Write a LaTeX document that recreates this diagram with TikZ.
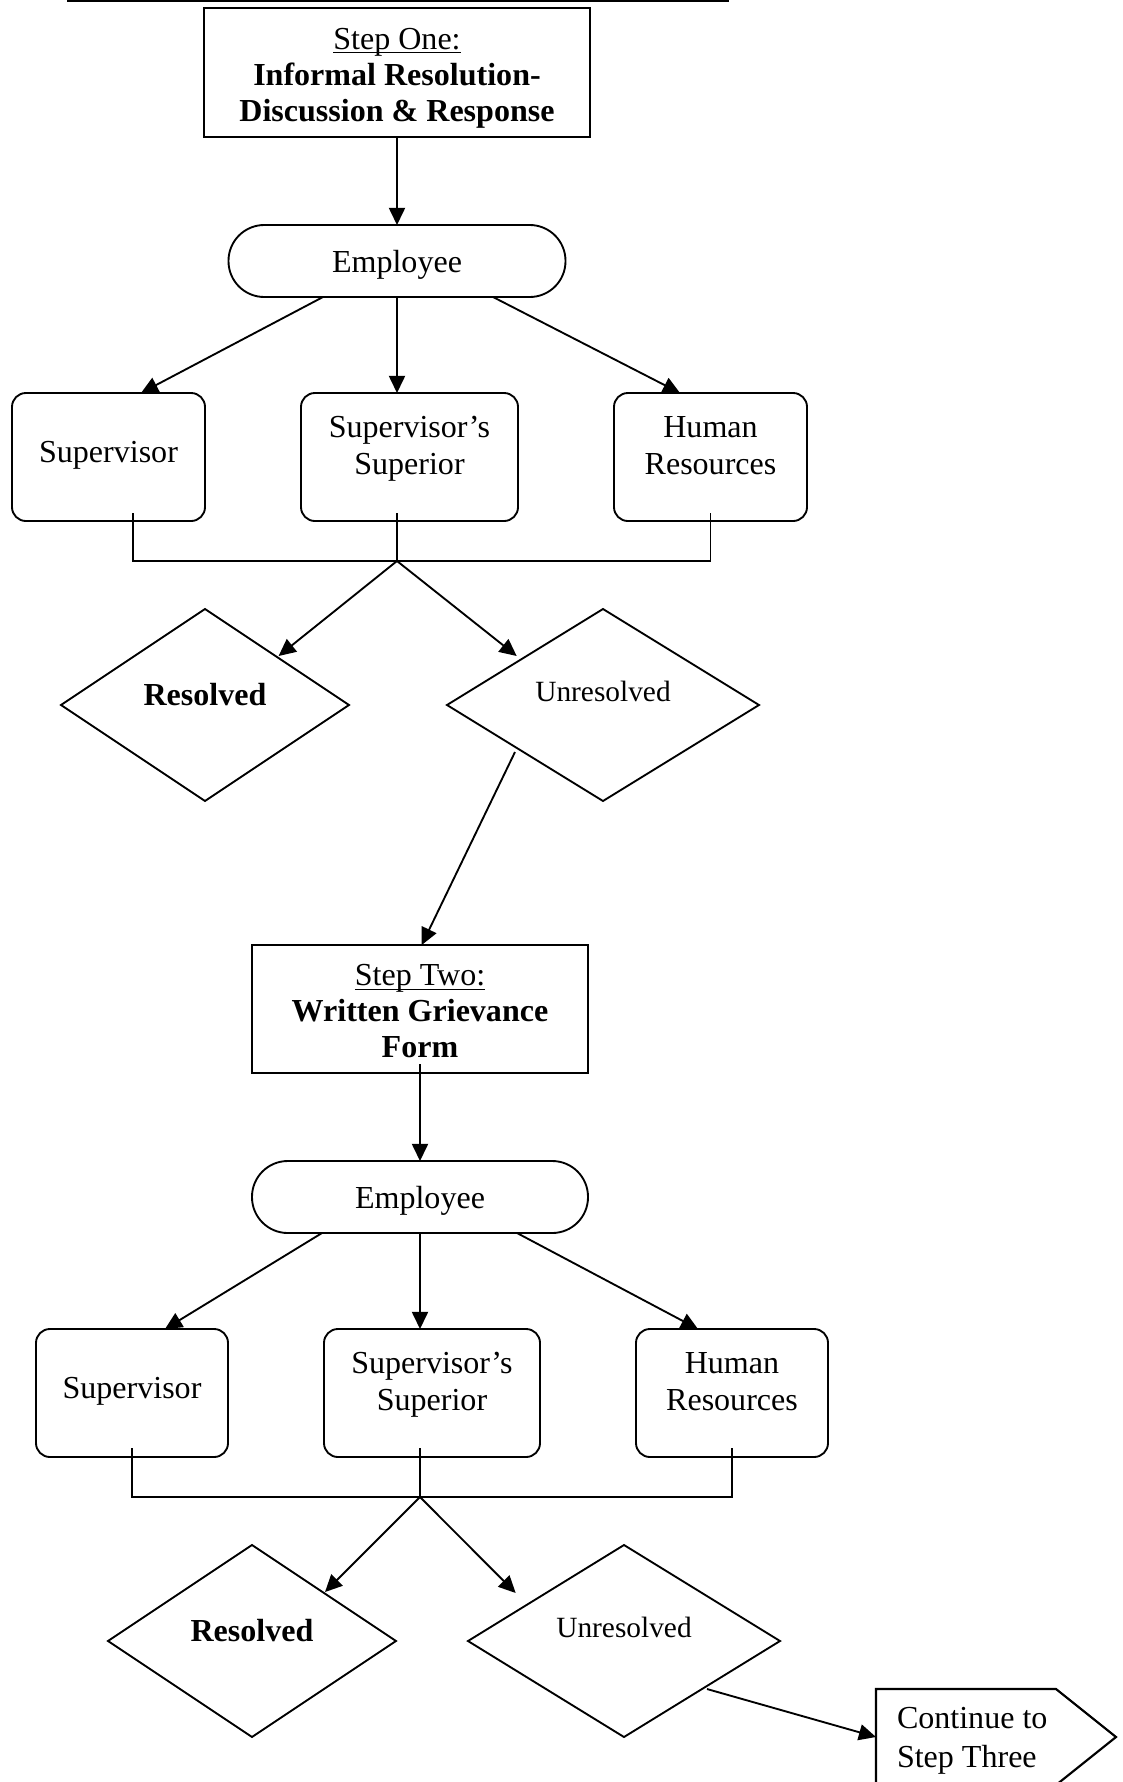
\documentclass[tikz,border=0pt]{standalone}
\usepackage{fontspec}
\setmainfont{Liberation Serif}
\usetikzlibrary{arrows.meta,shapes.geometric,calc}
\begin{document}
\begin{tikzpicture}[x=0.3745pt,y=-0.3745pt,
  every node/.style={outer sep=0pt,inner sep=0pt},
  sz/.style 2 args={minimum width=#1*0.3745pt,minimum height=#2*0.3745pt},
  ln/.style={line width=0.7pt},
  arr/.style={ln,-{Triangle[length=6.4pt,width=6pt]}},
  stepbox/.style={draw,rectangle,line width=0.85pt},
  emp/.style={draw,rectangle,rounded corners=13.4pt,ln},
  rbox/.style={draw,rectangle,rounded corners=5.2pt,ln},
  dia/.style={draw,shape=diamond,ln},
  tx/.style={font=\fontsize{12}{13.5}\selectfont,anchor=base},
  txb/.style={font=\fontsize{12}{13.5}\selectfont\bfseries,anchor=base},
  txs/.style={font=\fontsize{11}{13}\selectfont,anchor=base}
]
\useasboundingbox (0,0) rectangle (1122,1782);
\clip (0,0) rectangle (1122,1782);

% remnant of title underline at the top edge
\draw[line width=0.8pt] (67,1) -- (729,1);

% ---------- Step One ----------
\node[stepbox,sz={386}{129}] (step1) at (397,72.5) {};
\node[tx]  (s1a) at ($(step1.center)+(0,-23.5)$) {\underline{\smash{Step One:}}};
\node[txb] (s1b) at ($(step1.center)+(0,12.5)$) {Informal Resolution-};
\node[txb] (s1c) at ($(step1.center)+(0,48.5)$) {Discussion \& Response};

\node[emp,sz={337}{72}] (emp1) at (397,261) {};
\node[tx] (e1t) at ($(emp1.center)+(0,11.5)$) {Employee};

\node[rbox,sz={193}{128}] (sup1) at (108.5,457) {};
\node[tx] (sup1t) at ($(sup1.center)+(0,5)$) {Supervisor};
\node[rbox,sz={217}{128}] (ss1) at (409.5,457) {};
\node[tx] (ss1a) at ($(ss1.center)+(0,-20)$) {Supervisor’s};
\node[tx] (ss1b) at ($(ss1.center)+(0,17)$) {Superior};
\node[rbox,sz={193}{128}] (hr1) at (710.5,457) {};
\node[tx] (hr1a) at ($(hr1.center)+(0,-20)$) {Human};
\node[tx] (hr1b) at ($(hr1.center)+(0,17)$) {Resources};

\coordinate (j1) at (397,561);

\node[dia,sz={288}{192}] (res1) at (205,705) {};
\node[txb] (res1t) at (res1.center) {Resolved};
\node[dia,sz={312}{192}] (unr1) at (603,705) {};
\node[txs] (unr1t) at ($(unr1.center)+(0,-3.5)$) {Unresolved};

% ---------- Step Two ----------
\node[stepbox,sz={336}{128}] (step2) at (420,1009) {};
\node[tx]  (s2a) at ($(step2.center)+(0,-23.5)$) {\underline{\smash{Step Two:}}};
\node[txb] (s2b) at ($(step2.center)+(0,12.5)$) {Written Grievance};
\node[txb] (s2c) at ($(step2.center)+(0,48.5)$) {Form};

\node[emp,sz={336}{72}] (emp2) at (420,1197) {};
\node[tx] (e2t) at ($(emp2.center)+(0,11.5)$) {Employee};

\node[rbox,sz={192}{128}] (sup2) at (132,1393) {};
\node[tx] (sup2t) at ($(sup2.center)+(0,5)$) {Supervisor};
\node[rbox,sz={216}{128}] (ss2) at (432,1393) {};
\node[tx] (ss2a) at ($(ss2.center)+(0,-20)$) {Supervisor’s};
\node[tx] (ss2b) at ($(ss2.center)+(0,17)$) {Superior};
\node[rbox,sz={192}{128}] (hr2) at (732,1393) {};
\node[tx] (hr2a) at ($(hr2.center)+(0,-20)$) {Human};
\node[tx] (hr2b) at ($(hr2.center)+(0,17)$) {Resources};

\coordinate (j2) at (420,1497);

\node[dia,sz={288}{192}] (res2) at (252,1641) {};
\node[txb] (res2t) at (res2.center) {Resolved};
\node[dia,sz={312}{192}] (unr2) at (624,1641) {};
\node[txs] (unr2t) at ($(unr2.center)+(0,-3.5)$) {Unresolved};

\node[sz={240}{96}] (cont) at (996,1737) {};
\draw[line width=0.8pt] (cont.north west) -- ($(cont.north east)+(-60,0)$) -- (cont.east)
  -- ($(cont.south east)+(-60,0)$) -- (cont.south west) -- cycle;
\node[tx,anchor=base west] (c1) at ($(cont.west)+(21,-9)$) {Continue to};
\node[tx,anchor=base west] (c2) at ($(cont.west)+(21,30)$) {Step Three};

% ---------- connectors, part one ----------
\draw[arr] (step1.south) -- (emp1.north);
\draw[arr] ($(emp1.south)+(-74,0)$) -- ($(sup1.north)+(32.5,0)$);
\draw[arr] (emp1.south) -- (emp1.south |- ss1.north);
\draw[arr] ($(emp1.south)+(96,0)$) -- ($(hr1.north)+(-30.5,0)$);
\draw[ln] ($(sup1.south)+(24.5,-8)$) |- (j1);
\draw[ln] ($(hr1.south)+(0,-8)$) |- (j1);
\draw[ln] (j1) -- ($(j1 |- ss1.south)+(0,-8)$);
\draw[arr] (j1) -- ($(res1.center)+(73.6,-49)$);
\draw[arr] (j1) -- ($(unr1.center)+(-86.3,-49)$);
\draw[arr] ($(unr1.center)+(-88,47)$) -- ($(step2.north)+(1.7,0)$);

% ---------- connectors, part two ----------
\draw[arr] ($(step2.south)+(0,-9)$) -- (emp2.north);
\draw[arr] ($(emp2.south)+(-98,0)$) -- ($(sup2.north)+(33,0)$);
\draw[arr] (emp2.south) -- (emp2.south |- ss2.north);
\draw[arr] ($(emp2.south)+(97,0)$) -- ($(hr2.north)+(-34,0)$);
\draw[ln] ($(sup2.south)+(0,-9)$) |- (j2);
\draw[ln] ($(hr2.south)+(0,-9)$) |- (j2);
\draw[ln] (j2) -- ($(j2 |- ss2.south)+(0,-9)$);
\draw[arr] (j2) -- ($(res2.center)+(73,-49)$);
\draw[arr] (j2) -- ($(unr2.center)+(-108.3,-48)$);
\draw[arr] ($(unr2.center)+(83,48)$) -- (cont.west);
\end{tikzpicture}
\end{document}
